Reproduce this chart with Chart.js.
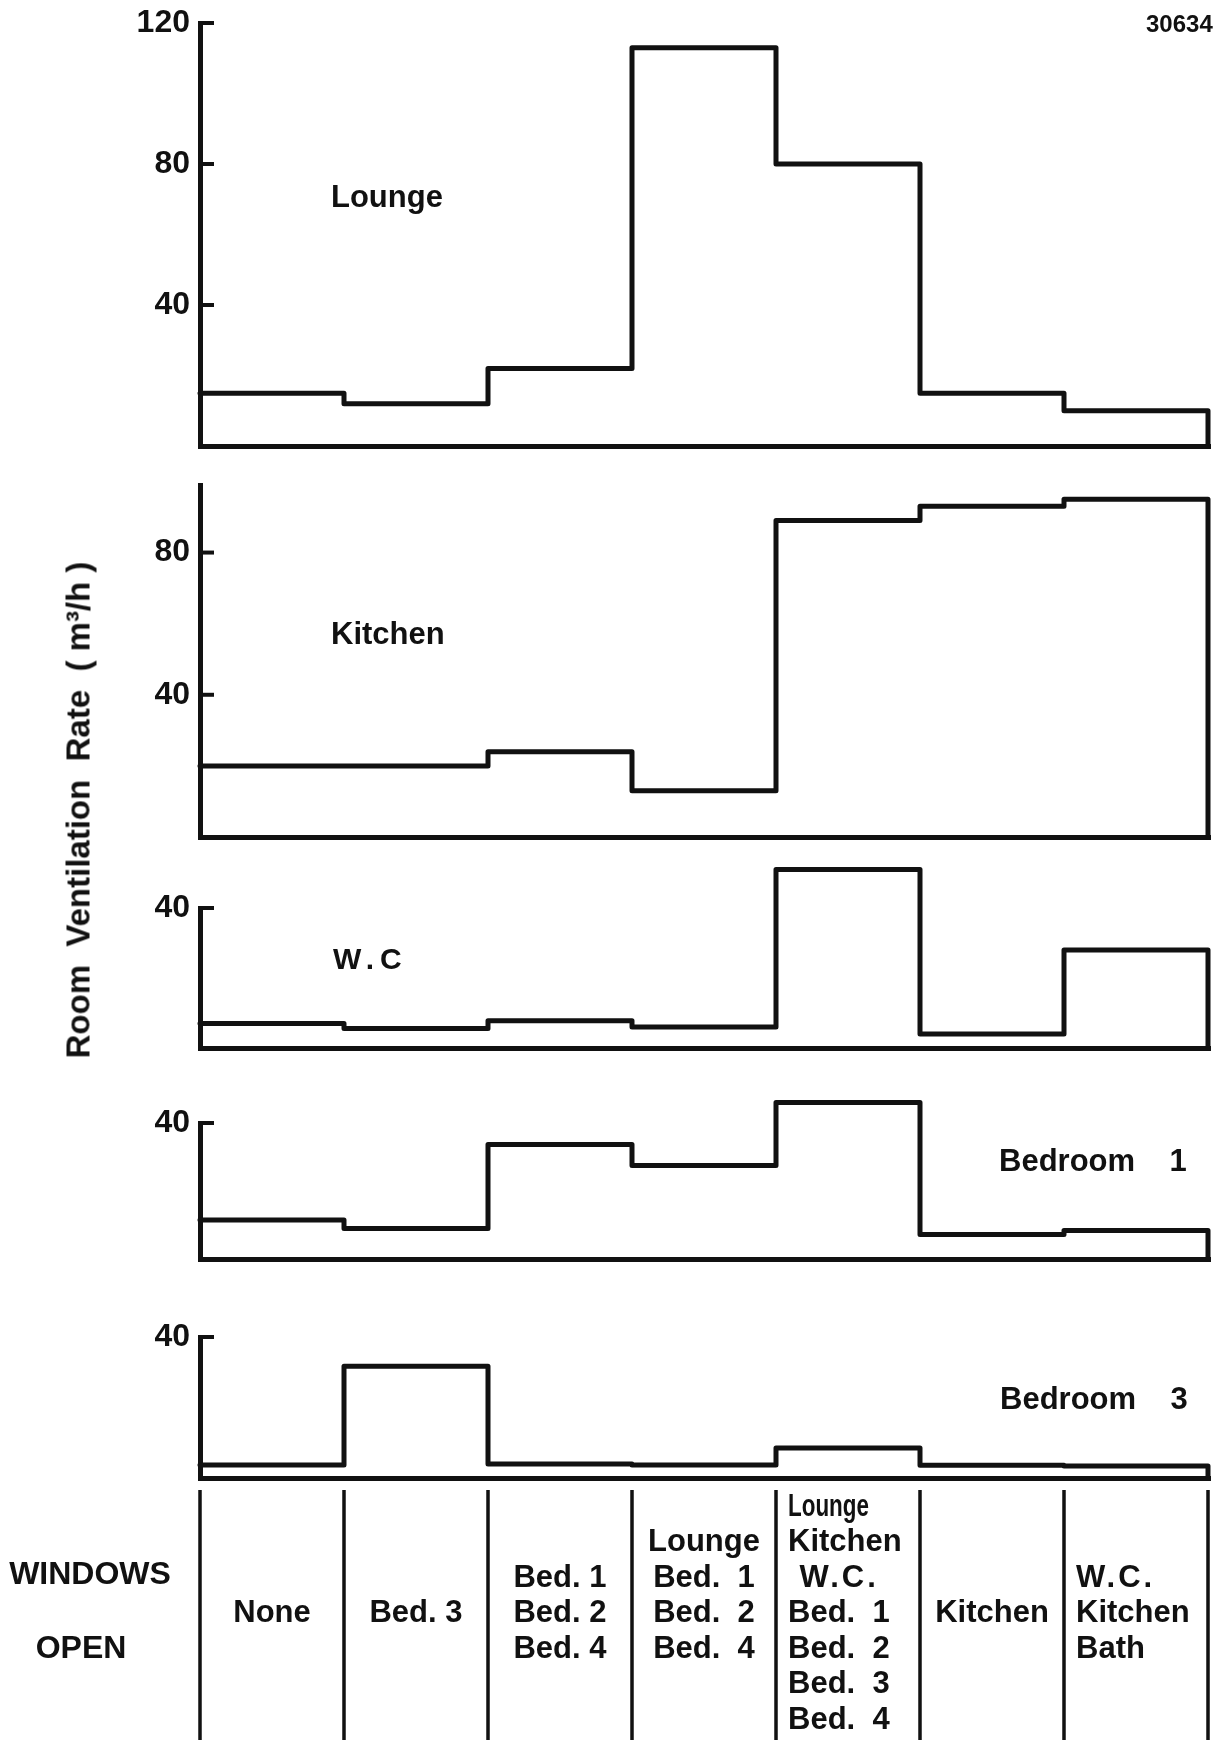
<!DOCTYPE html>
<html>
<head>
<meta charset="utf-8">
<script src="https://cdn.jsdelivr.net/npm/chart.js@4"></script>
<style>
html,body{margin:0;padding:0;background:#fff;}
#wrap{position:relative;width:1216px;height:1740px;overflow:hidden;background:#fff;}
#wrap canvas{position:absolute;left:0;}
.lbl{position:absolute;font-family:"Liberation Sans",Arial,Helvetica,sans-serif;font-weight:bold;color:#111;white-space:pre;line-height:1;}
</style>
</head>
<body>
<div id="wrap"></div>
<script>
// ---------------- data ----------------
const categories = [
  ["None"],
  ["Bed. 3"],
  ["Bed. 1", "Bed. 2", "Bed. 4"],
  ["Lounge", "Bed.  1", "Bed.  2", "Bed.  4"],
  ["Lounge", "Kitchen", " W.C.", "Bed.  1", "Bed.  2", "Bed.  3", "Bed.  4"],
  ["Kitchen"],
  ["W.C.", "Kitchen", "Bath"]
];
const roomNames = ["Lounge", "Kitchen", "W.C", "Bedroom    1", "Bedroom    3"];
const lounge   = [15, 12, 22, 113, 80, 15, 10];
const kitchen  = [20, 20, 24, 13, 89, 93, 95];
const wc       = [7, 5.6, 7.8, 6, 51, 4, 28];
const bedroom1 = [11.5, 9, 33.7, 27.5, 46, 7.2, 8.4];
const bedroom3 = [3.7, 31.7, 4, 3.7, 8.5, 3.6, 3.4];
const yMaxes = [120, 99, 40, 40, 40];
const tickValues = [[40, 80, 120], [40, 80], [40], [40], [40]];
const yAxisTitle = "Room  Ventilation  Rate  ( m\u00b3/h )";
const figureNumber = "30634";
const tableTitle = ["WINDOWS", "OPEN"];

// ---------------- layout / style ----------------
const INK = "#111";
const FONT = '"Liberation Sans", Arial, Helvetica, sans-serif';
const W = 1216, H = 1740;
const PLOT_LEFT = 200, PLOT_RIGHT = 1208;
const panelBox = [[23, 446], [485, 837], [908, 1048], [1123, 1259], [1337, 1478]];
const PAD = 60;
const TABLE_TOP = 1490, ROW0 = 1611, ROW_GAP = 35.5;
const labelAlign = ["center", "center", "center", "center", "left", "center", "left"];
const squeezedLabel = {col: 4, row: 0, maxWidth: 81};
const roomLabelPos = [[331, 181], [331, 618], [333, 944], [999, 1145], [1000, 1383]];
const LINE_W = 5;

const rooms = [lounge, kitchen, wc, bedroom1, bedroom3];

function stepData(vals) {
  const pts = vals.map((v, i) => ({x: i, y: v}));
  pts.push({x: vals.length, y: vals[vals.length - 1]});
  pts.push({x: vals.length, y: 0});
  return pts;
}

const inwardTicks = {
  id: 'inwardTicks',
  afterDraw(chart, args, opts) {
    const ys = chart.scales.y, ctx = chart.ctx, L = chart.chartArea.left;
    ctx.save();
    ctx.strokeStyle = INK; ctx.lineWidth = 4; ctx.lineCap = 'butt';
    (opts.values || []).forEach(v => {
      const py = ys.getPixelForValue(v);
      ctx.beginPath(); ctx.moveTo(L, py); ctx.lineTo(L + 14, py); ctx.stroke();
    });
    ctx.restore();
  }
};

const windowsTable = {
  id: 'windowsTable',
  afterDraw(chart, args, opts) {
    if (!opts.enabled) return;
    const xs = chart.scales.x, ctx = chart.ctx, top = opts.canvasTop;
    ctx.save();
    ctx.strokeStyle = INK; ctx.lineWidth = 3.5;
    for (let k = 0; k <= categories.length; k++) {
      const px = xs.getPixelForValue(k);
      ctx.beginPath(); ctx.moveTo(px, TABLE_TOP - top); ctx.lineTo(px, H - top); ctx.stroke();
    }
    ctx.fillStyle = INK;
    ctx.font = 'bold 31px ' + FONT;
    ctx.textBaseline = 'alphabetic';
    categories.forEach((lines, i) => {
      const align = labelAlign[i];
      const px = align === 'left' ? xs.getPixelForValue(i) + 12 : xs.getPixelForValue(i + 0.5);
      ctx.textAlign = align;
      const start = -Math.floor(lines.length / 2);
      lines.forEach((t, j) => {
        const cy = ROW0 + (start + j) * ROW_GAP - top;
        ctx.letterSpacing = t.indexOf('W.C') >= 0 ? '3px' : '0px';
        if (i === squeezedLabel.col && j === squeezedLabel.row) {
          ctx.fillText(t, px, cy + 11, squeezedLabel.maxWidth);
        } else {
          ctx.fillText(t, px, cy + 11);
        }
      });
    });
    ctx.restore();
  }
};

const wrap = document.getElementById('wrap');

rooms.forEach((vals, i) => {
  const [pt, pb] = panelBox[i];
  const last = i === rooms.length - 1;
  const cTop = pt - PAD;
  const cH = last ? (H - cTop) : (pb - pt + 2 * PAD);
  const cv = document.createElement('canvas');
  cv.width = W; cv.height = cH;
  cv.style.top = cTop + 'px';
  cv.style.width = W + 'px'; cv.style.height = cH + 'px';
  wrap.appendChild(cv);

  new Chart(cv, {
    type: 'line',
    data: {
      datasets: [{
        data: stepData(vals),
        borderColor: INK,
        borderWidth: LINE_W,
        stepped: true,
        pointRadius: 0,
        fill: false,
        clip: false,
        borderJoinStyle: 'round',
        borderCapStyle: 'round'
      }]
    },
    options: {
      responsive: false,
      animation: false,
      devicePixelRatio: 1,
      events: [],
      layout: {padding: {top: PAD, bottom: last ? (H - pb) : PAD, left: 0, right: W - PLOT_RIGHT}},
      plugins: {
        legend: {display: false},
        tooltip: {enabled: false},
        inwardTicks: {values: tickValues[i]},
        windowsTable: {enabled: last, canvasTop: cTop}
      },
      scales: {
        x: {
          type: 'linear', min: 0, max: categories.length,
          ticks: {display: false},
          grid: {display: false, drawTicks: false, lineWidth: LINE_W},
          border: {display: true, color: INK, width: LINE_W},
          afterFit: s => { s.height = 0; }
        },
        y: {
          type: 'linear', min: 0, max: yMaxes[i],
          afterBuildTicks: s => { s.ticks = tickValues[i].map(v => ({value: v})); },
          ticks: {color: INK, padding: 10, font: {family: FONT, size: 32, weight: 'bold'}},
          grid: {display: false, drawTicks: false, lineWidth: LINE_W},
          border: {display: true, color: INK, width: LINE_W},
          afterFit: s => { s.width = PLOT_LEFT; }
        }
      }
    },
    plugins: [inwardTicks, windowsTable]
  });
});

function addLabel(text, left, top, size, extra) {
  const d = document.createElement('div');
  d.className = 'lbl';
  d.textContent = text;
  d.style.left = left + 'px'; d.style.top = top + 'px';
  d.style.fontSize = size + 'px';
  if (extra) Object.assign(d.style, extra);
  wrap.appendChild(d);
  return d;
}

roomNames.forEach((n, i) => addLabel(n, roomLabelPos[i][0], roomLabelPos[i][1], i === 2 ? 30 : 31, i === 2 ? {letterSpacing: '6px'} : null));
addLabel(figureNumber, 1146, 12, 24);
addLabel(tableTitle[0], 90, 1573 - 16, 32, {transform: 'translateX(-50%)'});
addLabel(tableTitle[1], 81, 1647 - 16, 32, {transform: 'translateX(-50%)'});
addLabel(yAxisTitle, 78, 810, 33, {transform: 'translate(-50%,-50%) rotate(-90deg)'});
</script>
</body>
</html>
